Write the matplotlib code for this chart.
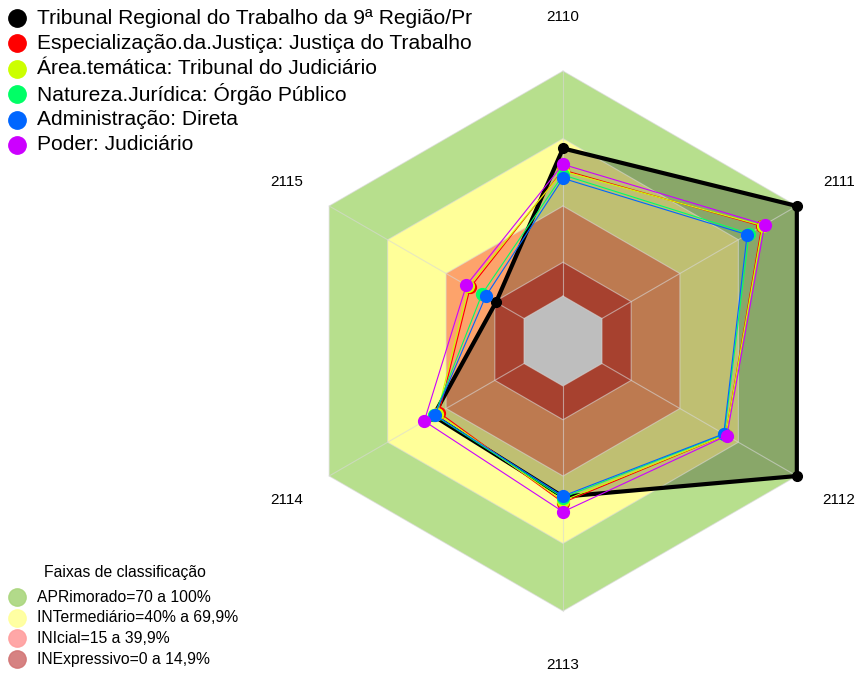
import numpy as np
import matplotlib.pyplot as plt
from matplotlib.patches import Polygon

plt.rcParams['font.family'] = ['Liberation Sans', 'DejaVu Sans']

### axes of the radar (clockwise from the top)
axis_labels = ['2110', '2111', '2112', '2113', '2114', '2115']

### series values in percent
series_names = [
    'Tribunal Regional do Trabalho da 9ª Região/Pr',
    'Especialização.da.Justiça: Justiça do Trabalho',
    'Área.temática: Tribunal do Judiciário',
    'Natureza.Jurídica: Órgão Público',
    'Administração: Direta',
    'Poder: Judiciário',
]
tribunal       = [65.6, 100.0, 100.0, 49.2, 46.5, 14.4]
especializacao = [56.0, 82.0, 63.5, 51.8, 43.6, 27.6]
area_tematica  = [55.5, 82.5, 63.5, 51.0, 44.5, 28.5]
natureza       = [53.8, 75.5, 62.8, 49.6, 46.0, 21.6]
administracao  = [52.3, 74.5, 62.5, 48.9, 45.8, 19.7]
poder          = [58.5, 83.5, 64.1, 55.9, 51.2, 29.6]
series_values = [tribunal, especializacao, area_tematica, natureza, administracao, poder]
series_colors = ['#000000', '#FF0000', '#CCFF00', '#00FF66', '#0066FF', '#CC00FF']

### classification bands
band_limits = [100, 70, 40, 15]
band_colors = ['#B7DF8D', '#FFFF99', '#FDA36B', '#E05840']
band_labels = ['APRimorado=70 a 100%', 'INTermediário=40% a 69,9%',
               'INIcial=15 a 39,9%', 'INExpressivo=0 a 14,9%']
band_legend_colors = ['#AAD67D', '#FFFF99', '#FF9E9E', '#D27474']

W, H = 863, 675
cx, cy, R = 563, 341, 270.

theta = np.deg2rad(90 - 60*np.arange(len(axis_labels)))

def rscale(v):
    # fmsb-like scale with a hole in the centre
    return (1. + 5.*np.asarray(v, dtype=float)/100.)/6.

def xy(vals):
    r = rscale(vals)
    return np.column_stack([r*np.cos(theta), r*np.sin(theta)])

fig = plt.figure(figsize=(W/100, H/100), dpi=100)
ax = fig.add_axes([0, 0, 1, 1])
ax.set_xlim(-cx/R, (W-cx)/R)
ax.set_ylim(-(H-cy)/R, cy/R)
ax.axis('off')

for lim, col in zip(band_limits, band_colors):
    ax.add_patch(Polygon(xy([lim]*6), closed=True, facecolor=col, edgecolor='none', zorder=1))

# shaded area of the first series
ax.add_patch(Polygon(xy(tribunal), closed=True, facecolor='k', alpha=0.25, edgecolor='none', zorder=2))

# centre hole
ax.add_patch(Polygon(xy([0]*6), closed=True, facecolor='#BEBEBE', edgecolor='none', zorder=3))

# grid
for lim in [0, 15, 40, 70, 100]:
    p = xy([lim]*6)
    p = np.vstack([p, p[:1]])
    ax.plot(p[:, 0], p[:, 1], color='#D8D8D8', lw=0.8, alpha=0.6, zorder=4)
for t in theta:
    ax.plot([np.cos(t)/6, np.cos(t)], [np.sin(t)/6, np.sin(t)], color='#D8D8D8', lw=0.8, alpha=0.6, zorder=4)

for k, (vals, col) in enumerate(zip(series_values, series_colors)):
    p = xy(vals)
    p = np.vstack([p, p[:1]])
    if k == 0:
        ax.plot(p[:, 0], p[:, 1], color=col, lw=3.0, zorder=5+k)
        ax.plot(p[:-1, 0], p[:-1, 1], 'o', color=col, ms=7, zorder=5+k)
    else:
        ax.plot(p[:, 0], p[:, 1], color=col, lw=0.8, zorder=5+k)
        ax.plot(p[:-1, 0], p[:-1, 1], 'o', color=col, ms=8.5, zorder=5+k)

for t, lab in zip(theta, axis_labels):
    rl = 1.2 if abs(np.cos(t)) < 0.1 else 1.18
    ax.text(rl*np.cos(t), rl*np.sin(t), lab, ha='center', va='center', fontsize=11)

### legends, placed by hand (pixel positions)
def fx(px): return px/W
def fy(py): return 1. - py/H

for i, (name, col) in enumerate(zip(series_names, series_colors)):
    yy = 18 + 25.4*i
    fig.lines.append(plt.Line2D([fx(17)], [fy(yy)], marker='o', ms=12.5, color=col,
                                ls='none', transform=fig.transFigure))
    fig.text(fx(37), fy(yy), name, fontsize=15.1, va='center', ha='left')

fig.text(fx(125), fy(572), 'Faixas de classificação', fontsize=11.3, va='center', ha='center')
for i, (lab, col) in enumerate(zip(band_labels, band_legend_colors)):
    yy = 597 + 20.7*i
    fig.lines.append(plt.Line2D([fx(17)], [fy(yy)], marker='o', ms=12.5, color=col, alpha=0.9,
                                ls='none', transform=fig.transFigure))
    fig.text(fx(37), fy(yy), lab, fontsize=11.3, va='center', ha='left')

fig.savefig('out.png', dpi=100)
